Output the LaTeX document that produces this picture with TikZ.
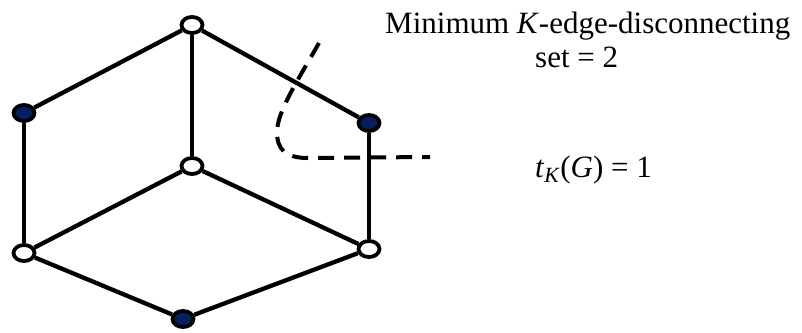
\documentclass[tikz,border=0pt]{standalone}
\usepackage{fontspec}
\setmainfont{Liberation Serif}
\usetikzlibrary{shapes.geometric}
\definecolor{navyfill}{RGB}{5,30,95}
\tikzset{
  vtx/.style={ellipse, draw=black, line width=3.8pt, minimum width=21pt, minimum height=16pt, inner sep=0pt},
  wv/.style={vtx, fill=white},
  bv/.style={vtx, fill=navyfill},
  edge/.style={line width=4.3pt, black},
  cut/.style={line width=4pt, black, dash pattern=on 16pt off 10pt},
  lbl/.style={inner sep=0pt, font=\fontsize{31}{36}\selectfont}
}
\begin{document}
\begin{tikzpicture}[x=1pt, y=-1pt]
\useasboundingbox (0,0) rectangle (802,332);
\node[wv] (top) at (192,25) {};
\node[bv] (left) at (24,113) {};
\node[bv] (right) at (369,123) {};
\node[wv] (center) at (192,166) {};
\node[wv] (bl) at (24,253) {};
\node[wv] (br) at (369,249) {};
\node[bv] (bot) at (183,319) {};
\draw[edge] (top) -- (left);
\draw[edge] (top) -- (center);
\draw[edge] (top) -- (right);
\draw[edge] (left) -- (bl);
\draw[edge] (center) -- (bl);
\draw[edge] (center) -- (br);
\draw[edge] (right) -- (br);
\draw[edge] (bl) -- (bot);
\draw[edge] (br) -- (bot);
\draw[cut] (319,43) .. controls (298,80) and (277,112) .. (277,132) .. controls (277,150) and (286,157) .. (305,158) -- (430,157);
\node[lbl, anchor=base west] (t1) at (385,33) {Minimum \textit{K}-edge-disconnecting};
\node[lbl, anchor=base west] (t2) at (535,67) {set = 2};
\node[lbl, anchor=base west] (t3) at (535,177) {\textit{t}\textsubscript{\textit{K}}(\textit{G}) = 1};
\end{tikzpicture}
\end{document}
